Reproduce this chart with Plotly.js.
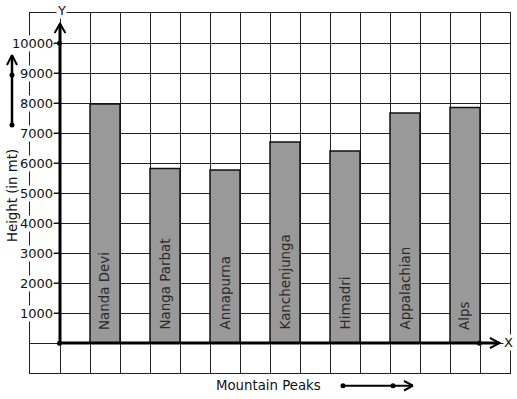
<!DOCTYPE html>
<html>
<head>
<meta charset="utf-8">
<script src="https://cdn.plot.ly/plotly-3.0.1.min.js"></script>
<style>html,body{margin:0;padding:0;background:#fff;}#chart{width:517px;height:399px;}</style>
</head>
<body>
<div id="chart"></div>
<script>
// ---- data ----
var peaks = ["Nanda Devi", "Nanga Parbat", "Annapurna", "Kanchenjunga", "Himadri", "Appalachian", "Alps"];
var heights = [7970, 5820, 5770, 6700, 6400, 7670, 7850];
var yTickValues = [1000, 2000, 3000, 4000, 5000, 6000, 7000, 8000, 9000, 10000];
var yTickLabels = ["1000", "2000", "3000", "4000", "5000", "6000", "7000", "8000", "9000", "10000"];

// ---- layout helpers ----
var W = 517, H = 399;
var M = {l: 30, r: 7, t: 13, b: 26};
var PW = W - M.l - M.r, PH = H - M.t - M.b;
function px(x) { return (x - M.l) / PW; }
function py(y) { return (H - M.b - y) / PH; }
var FONT = "DejaVu Sans, sans-serif";

var xs = peaks.map(function (_, i) { return 1.5 + 2 * i; });

var trace = {
  type: "bar",
  x: xs,
  y: heights,
  width: 1,
  marker: {color: "#999999", line: {color: "#111", width: 1.5}},
  hoverinfo: "skip"
};

var shapes = [];
var annotations = [];

// thick axes
shapes.push({type: "line", xref: "x", yref: "y", x0: 0, x1: 0, y0: 0, y1: 10640, line: {color: "#000", width: 3}});
shapes.push({type: "line", xref: "x", yref: "y", x0: 0, x1: 14.62, y0: 0, y1: 0, line: {color: "#000", width: 3}});
// chevrons on axes
shapes.push({type: "path", xref: "x", yref: "y", path: "M -0.18,10330 L 0,10640 L 0.18,10330", line: {color: "#000", width: 2}});
shapes.push({type: "path", xref: "x", yref: "y", path: "M 14.33,-170 L 14.65,0 L 14.33,170", line: {color: "#000", width: 2}});

function dotPx(cx, cy, r) {
  shapes.push({type: "circle", xref: "paper", yref: "paper",
    x0: px(cx - r), x1: px(cx + r), y0: py(cy + r), y1: py(cy - r),
    fillcolor: "#000", line: {color: "#000", width: 0}});
}
function linePx(x0, y0, x1, y1, w) {
  shapes.push({type: "line", xref: "paper", yref: "paper",
    x0: px(x0), x1: px(x1), y0: py(y0), y1: py(y1), line: {color: "#000", width: w}});
}
// dots on axes
dotPx(59.5, 343.3, 2.5);
dotPx(59.5, 43.3, 2.5);
dotPx(479.5, 343.3, 2.5);

// left arrow
linePx(12, 125, 12, 56, 2.5);
linePx(7, 65, 12, 55, 2);
linePx(17, 65, 12, 55, 2);
dotPx(12, 125, 2.5);
dotPx(12, 75, 2.5);

// bottom arrow
linePx(343, 385.7, 412, 385.7, 2);
linePx(404, 381, 413, 385.7, 2);
linePx(404, 390.5, 413, 385.7, 2);
dotPx(343, 385.7, 2.5);
dotPx(393, 385.7, 2.5);

// y tick marks and labels
yTickValues.forEach(function (v, i) {
  shapes.push({type: "line", xref: "x", yref: "y", x0: -0.2, x1: 0, y0: v, y1: v, line: {color: "#111", width: 1}});
  annotations.push({xref: "x", yref: "y", x: -0.2, y: v, xanchor: "right", yanchor: "middle",
    text: yTickLabels[i], showarrow: false, bgcolor: "#fff", borderpad: 0,
    font: {family: FONT, size: 13, color: "#111"}});
});

// bar labels
peaks.forEach(function (name, i) {
  annotations.push({xref: "x", yref: "y", x: xs[i], y: 370, xanchor: "center", yanchor: "bottom",
    text: name, textangle: -90, showarrow: false,
    font: {family: FONT, size: 13.4, color: "#2a2a2a"}});
});

// axis letters and titles
annotations.push({xref: "paper", yref: "paper", x: px(61), y: py(10), xanchor: "center", yanchor: "middle",
  text: "Y", showarrow: false, bgcolor: "#fff", borderpad: 0, font: {family: FONT, size: 13, color: "#111"}});
annotations.push({xref: "paper", yref: "paper", x: px(508), y: py(342), xanchor: "center", yanchor: "middle",
  text: "X", showarrow: false, bgcolor: "#fff", borderpad: 0, font: {family: FONT, size: 13, color: "#111"}});
annotations.push({xref: "paper", yref: "paper", x: px(268), y: py(385), xanchor: "center", yanchor: "middle",
  text: "Mountain Peaks", showarrow: false, font: {family: FONT, size: 13.3, color: "#111"}});
annotations.push({xref: "paper", yref: "paper", x: px(12), y: py(196), xanchor: "center", yanchor: "middle",
  text: "Height (in mt)", textangle: -90, showarrow: false, font: {family: FONT, size: 13.3, color: "#111"}});

var layout = {
  width: W, height: H,
  margin: M,
  paper_bgcolor: "#fff", plot_bgcolor: "#fff",
  showlegend: false,
  xaxis: {range: [-1, 15], dtick: 1, tick0: 0, showgrid: true, gridcolor: "#222", gridwidth: 1,
    zeroline: false, showticklabels: false, ticks: "", showline: true, mirror: true, linecolor: "#222", linewidth: 1, fixedrange: true},
  yaxis: {range: [-1000, 11000], dtick: 1000, tick0: 0, showgrid: true, gridcolor: "#222", gridwidth: 1,
    zeroline: false, showticklabels: false, ticks: "", showline: true, mirror: true, linecolor: "#222", linewidth: 1, fixedrange: true},
  shapes: shapes,
  annotations: annotations
};

Plotly.newPlot("chart", [trace], layout, {displayModeBar: false, staticPlot: true});
</script>
</body>
</html>
